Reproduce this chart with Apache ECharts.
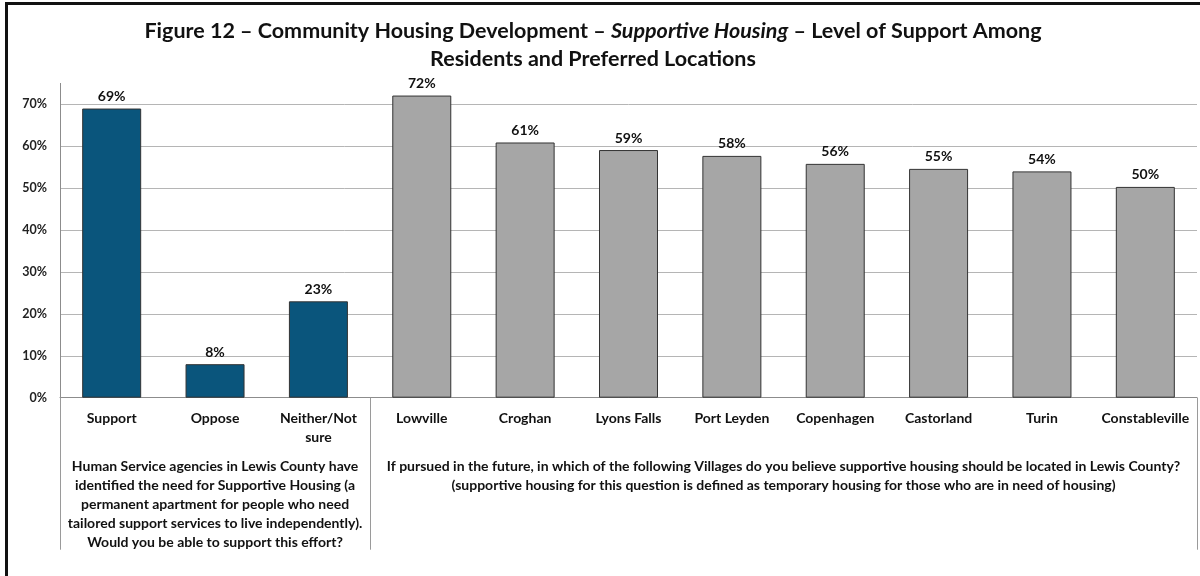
<!DOCTYPE html>
<html>
<head>
<meta charset="utf-8">
<script src="https://cdn.jsdelivr.net/npm/echarts@6/dist/echarts.min.js"></script>
<style>
  html, body { margin: 0; padding: 0; background: #fff; }
  #chart { width: 1200px; height: 576px; position: absolute; left: 0; top: 0; }
  #frame { position: absolute; left: 5px; top: 2px; width: 1300px; height: 700px;
           border-left: 3px solid #111; border-top: 3px solid #111; pointer-events: none; }
</style>
</head>
<body>
<div id="chart"></div>
<div id="frame"></div>
<script>
// ---- data ----
const categories = ['Support', 'Oppose', 'Neither/Not\nsure',
  'Lowville', 'Croghan', 'Lyons Falls', 'Port Leyden', 'Copenhagen',
  'Castorland', 'Turin', 'Constableville'];
const values = [0.69, 0.08, 0.23, 0.721, 0.609, 0.591, 0.577, 0.558, 0.546, 0.540, 0.503];
// which group each category belongs to (0 = support question, 1 = location question)
const groupOf = [0, 0, 0, 1, 1, 1, 1, 1, 1, 1, 1];
const groupLabels = [
  'Human Service agencies in Lewis County have\nidentified the need for Supportive Housing (a\npermanent apartment for people who need\ntailored support services to live independently).\nWould you be able to support this effort?',
  'If pursued in the future, in which of the following Villages do you believe supportive housing should be located in Lewis County?\n(supportive housing for this question is defined as temporary housing for those who are in need of housing)'
];
const yTicks = [0, 0.1, 0.2, 0.3, 0.4, 0.5, 0.6, 0.7];
const titleLine1a = 'Figure 12 – Community Housing Development – ';
const titleItalic = 'Supportive Housing';
const titleLine1b = ' – Level of Support Among';
const titleLine2 = 'Residents and Preferred Locations';

// ---- derived ----
const groupColors = ['#0A557C', '#A6A6A6'];
const boundaries = [];      // category index where each group starts
const groupCenters = [];    // {pos, g} centre of each group in category units
(function () {
  let start = 0;
  for (let i = 1; i <= groupOf.length; i++) {
    if (i === groupOf.length || groupOf[i] !== groupOf[start]) {
      boundaries.push(start);
      groupCenters.push({ pos: (start + i) / 2, g: groupOf[start] });
      start = i;
    }
  }
})();

const FONT = 'Lato';
const chart = echarts.init(document.getElementById('chart'));
chart.setOption({
  animation: false,
  backgroundColor: '#fff',
  title: {
    text: '{b|' + titleLine1a + '}{i|' + titleItalic + '}{b|' + titleLine1b + '}\n{b|' + titleLine2 + '}',
    left: 588, top: 12, textAlign: 'center',
    textStyle: {
      rich: {
        b: { fontFamily: FONT, fontWeight: 'bold', fontSize: 21.5, color: '#111', lineHeight: 28 },
        i: { fontFamily: FONT, fontWeight: 'bold', fontStyle: 'italic', fontSize: 21.5, color: '#111', lineHeight: 28 }
      }
    }
  },
  grid: { left: 60, right: 1, top: 83.4, bottom: 178.3, containLabel: false },
  xAxis: [
    {
      type: 'category', data: categories,
      axisLine: { lineStyle: { color: '#8c8c8c', width: 1 } },
      axisTick: { show: false },
      axisLabel: {
        interval: 0, margin: 11, lineHeight: 19,
        fontFamily: FONT, fontWeight: 'bold', fontSize: 14, color: '#111'
      }
    },
    {
      type: 'category', data: categories, position: 'bottom',
      axisLine: { show: false },
      axisTick: {
        show: true, length: 152, inside: false,
        interval: function (idx) { return boundaries.indexOf(idx) >= 0; },
        lineStyle: { color: '#9a9a9a', width: 1 }
      },
      axisLabel: { show: false }
    },
    {
      type: 'value', position: 'bottom', min: 0, max: categories.length, interval: 0.5,
      axisLine: { show: false }, axisTick: { show: false }, splitLine: { show: false },
      axisLabel: {
        showMinLabel: true, showMaxLabel: true,
        formatter: function (v) {
          const c = groupCenters.find(gc => Math.abs(gc.pos - v) < 1e-9);
          return c ? groupLabels[c.g] : '';
        },
        margin: 59, lineHeight: 19,
        fontFamily: FONT, fontWeight: 'bold', fontSize: 14, color: '#111'
      }
    }
  ],
  yAxis: {
    type: 'value', min: 0, max: 0.75, interval: 0.1,
    axisLine: { show: true, lineStyle: { color: '#8c8c8c' } },
    axisTick: { show: false },
    splitLine: { show: true, showMaxLine: false, lineStyle: { color: '#b5b5b5', width: 1 } },
    axisLabel: {
      showMaxLabel: false, margin: 13,
      fontFamily: FONT, fontWeight: 'bold', fontSize: 12.5, color: '#222',
      formatter: function (v) { return yTicks.some(t => Math.abs(t - v) < 1e-9) ? Math.round(v * 100) + '%' : ''; }
    }
  },
  series: [{
    type: 'bar', xAxisIndex: 0,
    barWidth: 59,
    data: values.map((v, i) => ({
      value: v,
      itemStyle: { color: groupColors[groupOf[i]], borderColor: '#333', borderWidth: 1 }
    })),
    label: {
      show: true, position: 'top', distance: 5,
      fontFamily: FONT, fontWeight: 'bold', fontSize: 14, color: '#111',
      formatter: p => Math.round(p.value * 100) + '%'
    }
  }]
});
</script>
</body>
</html>
